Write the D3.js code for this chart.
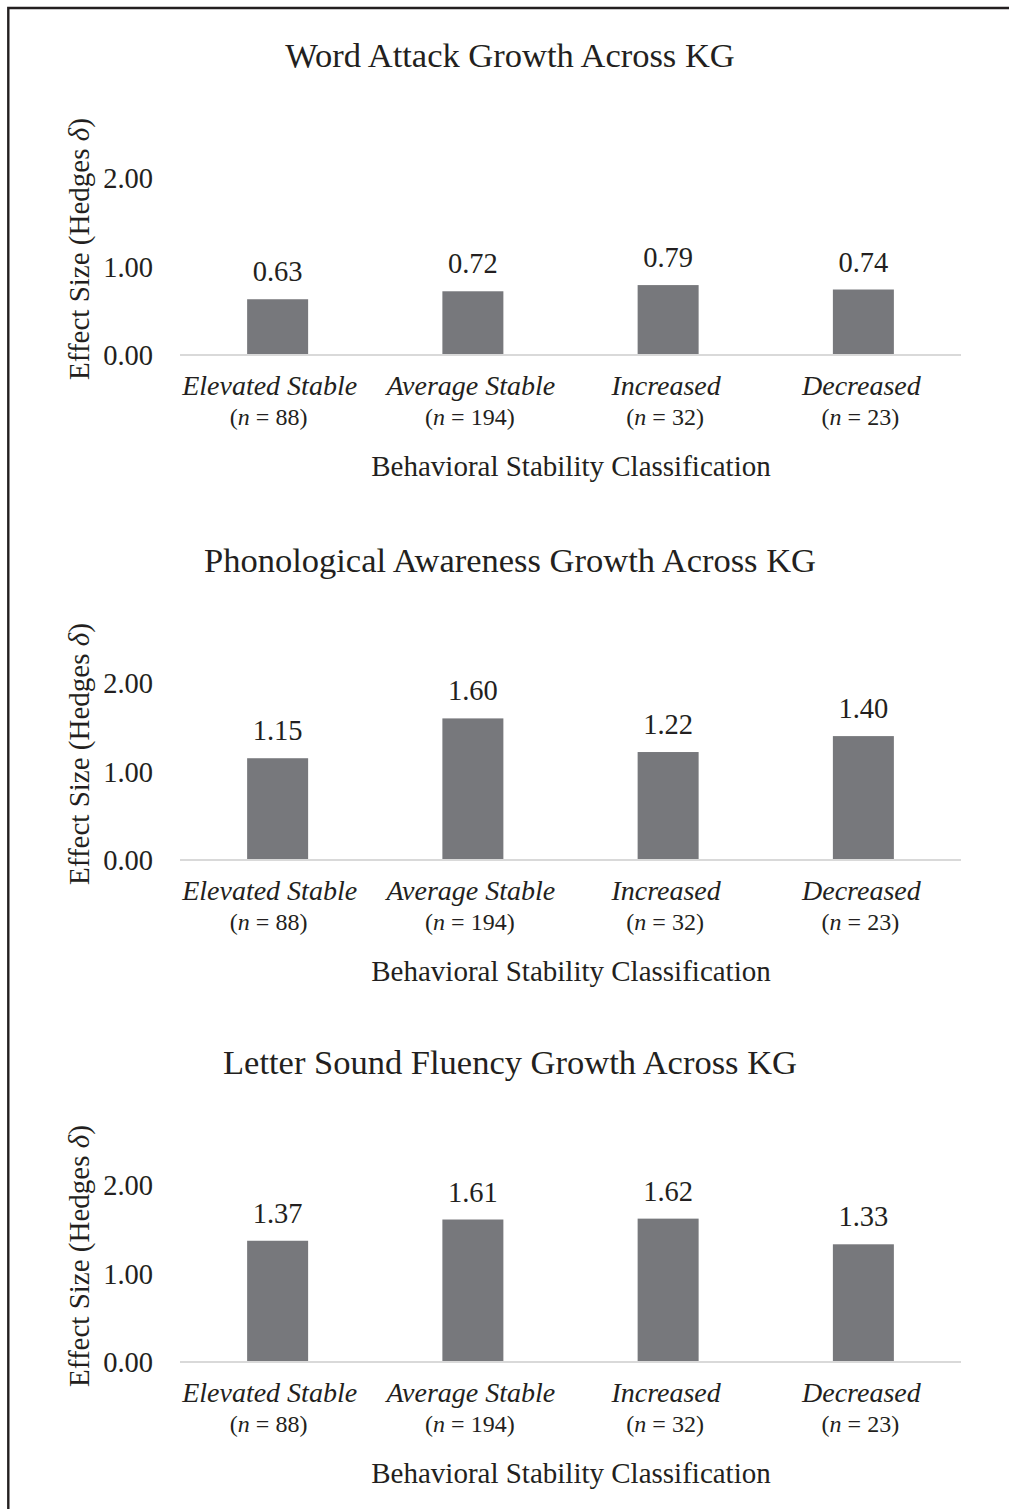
<!DOCTYPE html>
<html>
<head>
<meta charset="utf-8">
<script src="https://cdn.jsdelivr.net/npm/d3@7"></script>
<style>
  html, body { margin: 0; padding: 0; background: #fff; }
  svg { display: block; }
  text { font-family: "Liberation Serif", "Times New Roman", serif; fill: #231f20; }
</style>
</head>
<body>
<script>
const categories = ["Elevated Stable", "Average Stable", "Increased", "Decreased"];
const groupSizes = [88, 194, 32, 23];
const titles = [
  "Word Attack Growth Across KG",
  "Phonological Awareness Growth Across KG",
  "Letter Sound Fluency Growth Across KG"
];
const wordAttack = [0.63, 0.72, 0.79, 0.74];
const phonologicalAwareness = [1.15, 1.60, 1.22, 1.40];
const letterSoundFluency = [1.37, 1.61, 1.62, 1.33];
const yTicks = [0, 1, 2];
const xAxisTitle = "Behavioral Stability Classification";

const panels = [wordAttack, phonologicalAwareness, letterSoundFluency];
const panelBase = [355, 860, 1362];

const W = 1009, H = 1509;
const svg = d3.select("body").append("svg").attr("width", W).attr("height", H);

// frame (top and left rules)
svg.append("path")
  .attr("d", `M8.3,${H} L8.3,8 L${W},8`)
  .attr("fill", "none").attr("stroke", "#231f20").attr("stroke-width", 2.4);

const x = d3.scaleBand().domain(categories).range([180, 961])
  .paddingInner(0.6876).paddingOuter(0.3438);

panels.forEach((vals, i) => {
  const y0 = panelBase[i];
  const y = d3.scaleLinear().domain([0, 2]).range([y0, y0 - 177]);
  const g = svg.append("g");

  // title
  g.append("text").attr("x", 510).attr("y", y0 - 288)
    .attr("text-anchor", "middle").attr("font-size", 34.5)
    .text(titles[i]);

  // y tick labels
  g.selectAll(".yt").data(yTicks).join("text")
    .attr("x", 153).attr("y", d => y(d) + 10)
    .attr("text-anchor", "end").attr("font-size", 28.5)
    .text(d => d3.format(".2f")(d));

  // y axis title
  const yl = g.append("text")
    .attr("transform", `translate(89,${y0 - 106}) rotate(-90)`)
    .attr("text-anchor", "middle").attr("font-size", 29);
  yl.append("tspan").text("Effect Size (Hedges ");
  yl.append("tspan").attr("font-style", "italic").text("δ");
  yl.append("tspan").text(")");

  // bars
  g.selectAll(".bar").data(vals).join("rect")
    .attr("x", (d, j) => x(categories[j]))
    .attr("width", x.bandwidth())
    .attr("y", d => y(d))
    .attr("height", d => y0 - y(d))
    .attr("fill", "#77787c");

  // baseline
  g.append("line").attr("x1", 180).attr("x2", 961)
    .attr("y1", y0).attr("y2", y0)
    .attr("stroke", "#d9d9d9").attr("stroke-width", 2);

  // value labels
  g.selectAll(".val").data(vals).join("text")
    .attr("x", (d, j) => x(categories[j]) + x.bandwidth() / 2)
    .attr("y", d => y(d) - 18)
    .attr("text-anchor", "middle").attr("font-size", 28.5)
    .text(d => d3.format(".2f")(d));

  // category labels
  g.selectAll(".cat").data(categories).join("text")
    .attr("x", d => x(d) + x.bandwidth() / 2 - (d === categories[0] ? 8 : 2))
    .attr("y", y0 + 40)
    .attr("text-anchor", "middle").attr("font-size", 28).attr("font-style", "italic")
    .text(d => d);

  // n labels
  const nl = g.selectAll(".nl").data(groupSizes).join("text")
    .attr("x", (d, j) => x(categories[j]) + x.bandwidth() / 2 - (j === 0 ? 9 : 3))
    .attr("y", y0 + 70)
    .attr("text-anchor", "middle").attr("font-size", 24);
  nl.append("tspan").text("(");
  nl.append("tspan").attr("font-style", "italic").text("n");
  nl.append("tspan").text(d => " = " + d + ")");

  // x axis title
  g.append("text").attr("x", 571).attr("y", y0 + 121)
    .attr("text-anchor", "middle").attr("font-size", 29)
    .text(xAxisTitle);
});
</script>
</body>
</html>
